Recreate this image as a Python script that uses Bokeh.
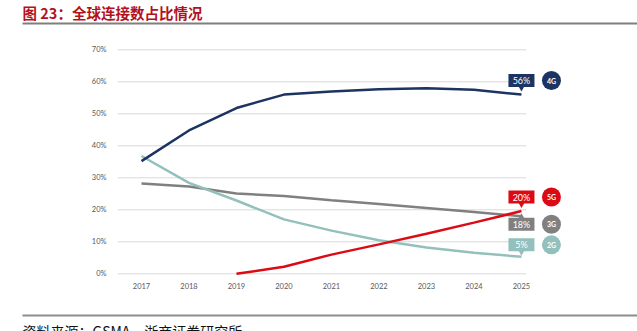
from bokeh.plotting import figure
from bokeh.layouts import column
from bokeh.models import Range1d, FixedTicker, PrintfTickFormatter
from bokeh.core.properties import value
from bokeh.embed import file_html
from bokeh.resources import INLINE

# ---- data ----
years = [2017, 2018, 2019, 2020, 2021, 2022, 2023, 2024, 2025]
share_4g = [35.2, 44.8, 51.8, 56.0, 57.0, 57.7, 58.0, 57.5, 56.0]
share_3g = [28.2, 27.3, 25.1, 24.3, 23.0, 21.8, 20.6, 19.3, 18.0]
share_2g = [36.8, 28.4, 22.9, 17.0, 13.5, 10.5, 8.2, 6.6, 5.3]
years_5g = [2019, 2020, 2021, 2022, 2023, 2024, 2025]
share_5g = [0.0, 2.2, 6.0, 9.2, 12.5, 16.0, 19.6]

series_names = ["4G", "5G", "3G", "2G"]
end_labels = ["56%", "20%", "18%", "5%"]
y_ticks = [0, 10, 20, 30, 40, 50, 60, 70]

title_text = "图 23：全球连接数占比情况"
source_text = "资料来源：GSMA，浙商证券研究所"

# ---- styles ----
C4 = "#1c3461"
C5 = "#dc0a14"
C3 = "#808080"
C2 = "#93c0bc"
TITLE_RED = "#b3121c"
W = 637

# ---- top strip: title ----
top = figure(width=W, height=26, output_backend="svg", toolbar_location=None,
             x_range=Range1d(0, W), y_range=Range1d(0, 26),
             min_border=0, outline_line_color=None)
top.frame_align = False
top.axis.visible = False
top.grid.visible = False
top.text(x=[22], y=[14.5], text=[title_text], text_font=value("Noto Sans CJK SC"),
         text_font_size="14.5px", text_font_style="bold", text_color=TITLE_RED,
         text_baseline="middle", text_align="left")
top.segment(x0=[22], y0=[3], x1=[W], y1=[3], line_color="#7f7f7f", line_width=2)

# ---- main chart ----
H = 286
x0r, x1r = 2016.495, 2026.18
y0r, y1r = -0.84, 72.9
p = figure(width=W, height=H, output_backend="svg", toolbar_location=None,
           x_range=Range1d(x0r, x1r), y_range=Range1d(y0r, y1r),
           min_border_left=117, min_border_right=60, min_border_top=14,
           min_border_bottom=36, outline_line_color=None)
p.frame_align = False
p.grid.visible = False
frame_h = H - 14 - 36
ppu = frame_h / (y1r - y0r)  # pixels per percent

# gridlines (ending just past the last year)
p.segment(x0=[x0r] * len(y_ticks), y0=y_ticks, x1=[years[-1] + 0.1] * len(y_ticks),
          y1=y_ticks, line_color="#d9d9d9", line_width=1)

for ax in (p.xaxis[0], p.yaxis[0]):
    ax.axis_line_color = None
    ax.major_tick_line_color = None
    ax.minor_tick_line_color = None
    ax.major_tick_out = 0
    ax.major_tick_in = 0
    ax.major_label_text_font = "Lato"
    ax.major_label_text_font_size = "7.5px"
    ax.major_label_text_color = "#595959"
p.xaxis.ticker = FixedTicker(ticks=years)
p.xaxis.major_label_standoff = 6
p.yaxis.ticker = FixedTicker(ticks=y_ticks)
p.yaxis.formatter = PrintfTickFormatter(format="%d%%")
p.yaxis.major_label_standoff = 11

p.line(years, share_3g, line_color=C3, line_width=2.5)
p.line(years, share_2g, line_color=C2, line_width=2.5)
p.line(years, share_4g, line_color=C4, line_width=2.5)
p.line(years_5g, share_5g, line_color=C5, line_width=2.5)

# end callouts
ends = [share_4g[-1], share_5g[-1], share_3g[-1], share_2g[-1]]
colors = [C4, C5, C3, C2]
offsets_px = [14, 14, -8, 12]
xe = years[-1]
xc = xe + 30 / 47.5
for name, lab, v, c, off in zip(series_names, end_labels, ends, colors, offsets_px):
    yb = v + off / ppu
    p.rect(x=[xe], y=[yb], width=26, height=13, width_units="screen",
           height_units="screen", fill_color=c, line_color=None)
    if off > 0:
        p.scatter(x=[xe], y=[yb - 7.5 / ppu], marker="inverted_triangle", size=6,
                  fill_color=c, line_color=None)
    else:
        p.scatter(x=[xe], y=[yb + 7.5 / ppu], marker="triangle", size=6,
                  fill_color=c, line_color=None)
    p.text(x=[xe], y=[yb], text=[lab], text_color="white", text_font=value("Lato"),
           text_font_size="9px", text_align="center", text_baseline="middle")
    p.scatter(x=[xc], y=[yb], marker="circle", size=19, fill_color=c, line_color=None)
    p.text(x=[xc], y=[yb], text=[name], text_color="white", text_font=value("Lato"),
           text_font_size="7px", text_font_style="bold", text_align="center",
           text_baseline="middle")

# ---- bottom strip: source ----
bot = figure(width=W, height=19, output_backend="svg", toolbar_location=None,
             x_range=Range1d(0, W), y_range=Range1d(0, 19),
             min_border=0, outline_line_color=None)
bot.frame_align = False
bot.axis.visible = False
bot.grid.visible = False
bot.segment(x0=[22], y0=[16], x1=[W], y1=[16], line_color="#8c8c8c", line_width=2)
bot.text(x=[22], y=[11], text=[source_text], text_font=value("Noto Sans CJK SC"),
         text_font_size="14px", text_color="#111111", text_baseline="top",
         text_align="left")

layout = column(top, p, bot, spacing=0)
open("out.html", "w").write(file_html(layout, INLINE))
